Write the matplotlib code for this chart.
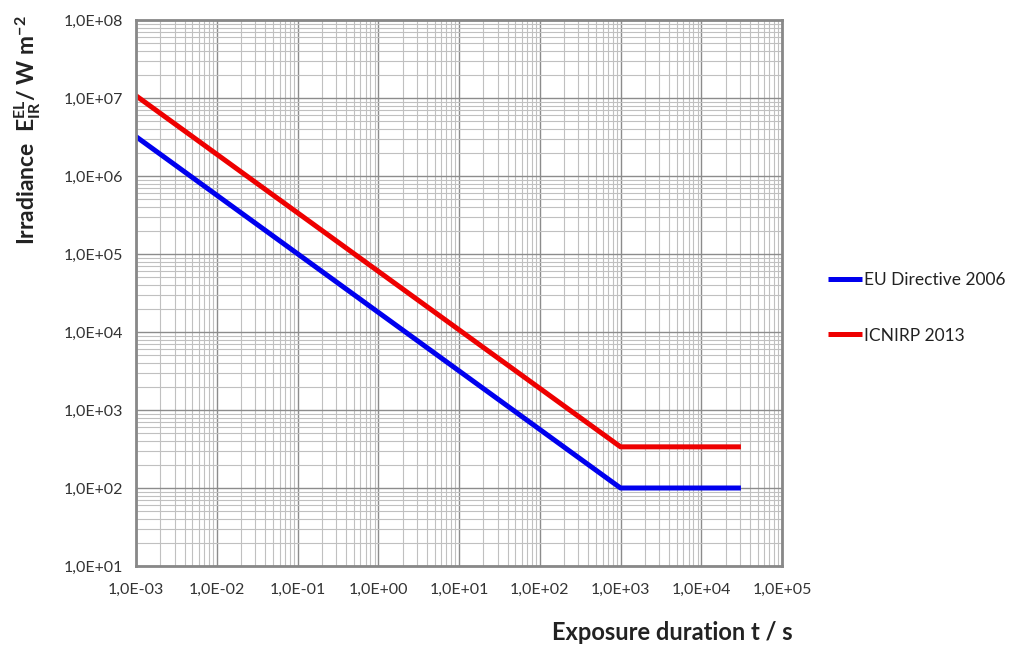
import matplotlib
matplotlib.use("Agg")
import matplotlib.pyplot as plt
from matplotlib.ticker import FixedLocator, FixedFormatter, LogLocator

plt.rcParams['font.family'] = ['Lato', 'DejaVu Sans']
plt.rcParams['mathtext.fontset'] = 'custom'
plt.rcParams['mathtext.rm'] = 'Lato'
plt.rcParams['mathtext.bf'] = 'Lato:bold'
plt.rcParams['mathtext.default'] = 'bf'

# exposure duration (s) and irradiance limits (W m-2)
t_eu = [1e-3, 1e3, 3.1e4]
e_eu = [3.2e6, 100, 100]
t_icnirp = [1e-3, 1e3, 3.1e4]
e_icnirp = [1.07e7, 337, 337]

x_ticks = [1e-3, 1e-2, 1e-1, 1e0, 1e1, 1e2, 1e3, 1e4, 1e5]
x_labels = ['1,0E-03', '1,0E-02', '1,0E-01', '1,0E+00', '1,0E+01',
            '1,0E+02', '1,0E+03', '1,0E+04', '1,0E+05']
y_ticks = [1e1, 1e2, 1e3, 1e4, 1e5, 1e6, 1e7, 1e8]
y_labels = ['1,0E+01', '1,0E+02', '1,0E+03', '1,0E+04',
            '1,0E+05', '1,0E+06', '1,0E+07', '1,0E+08']

fig = plt.figure(figsize=(10.15, 6.46), dpi=100)
ax = fig.add_axes([136/1015, 1-566/646, (782-136)/1015, (566-20)/646])

ax.plot(t_eu, e_eu, color='#0000ee', lw=3.6, label='EU Directive 2006', solid_capstyle='butt')
ax.plot(t_icnirp, e_icnirp, color='#ee0000', lw=3.6, label='ICNIRP 2013', solid_capstyle='butt')

ax.set_xscale('log')
ax.set_yscale('log')
ax.set_xlim(1e-3, 1e5)
ax.set_ylim(1e1, 1e8)

ax.xaxis.set_major_locator(FixedLocator(x_ticks))
ax.xaxis.set_major_formatter(FixedFormatter(x_labels))
ax.yaxis.set_major_locator(FixedLocator(y_ticks))
ax.yaxis.set_major_formatter(FixedFormatter(y_labels))
ax.xaxis.set_minor_locator(LogLocator(base=10, subs=range(2, 10), numticks=20))
ax.yaxis.set_minor_locator(LogLocator(base=10, subs=range(2, 10), numticks=20))

ax.grid(which='major', color='#8c8c8c', lw=1.0)
ax.grid(which='minor', color='#c0c0c0', lw=0.8)
ax.set_axisbelow(True)

ax.tick_params(which='both', length=0)
ax.tick_params(axis='x', pad=12, labelsize=11.5, labelcolor='#333333')
ax.tick_params(axis='y', pad=9, labelsize=11.5, labelcolor='#333333')

for s in ax.spines.values():
    s.set_color('#888888')
    s.set_linewidth(2)

fig.text(672/1015, 1-633/646, 'Exposure duration t / s', ha='center', va='center',
         fontsize=17, fontweight='bold', color='#222222')
fig.text(28/1015, 1-130/646, r'Irradiance  $E_{IR}^{EL}$/ W m$^{-2}$', ha='center', va='center',
         rotation=90, fontsize=16.5, fontweight='bold', color='#222222')

fig.legend(loc='upper left', bbox_to_anchor=(812/1015, 1-256/646), frameon=False,
           fontsize=12.5, handlelength=2.0, handletextpad=0.1, labelspacing=2.3,
           labelcolor='#222222')

fig.savefig('out.png', dpi=100)
